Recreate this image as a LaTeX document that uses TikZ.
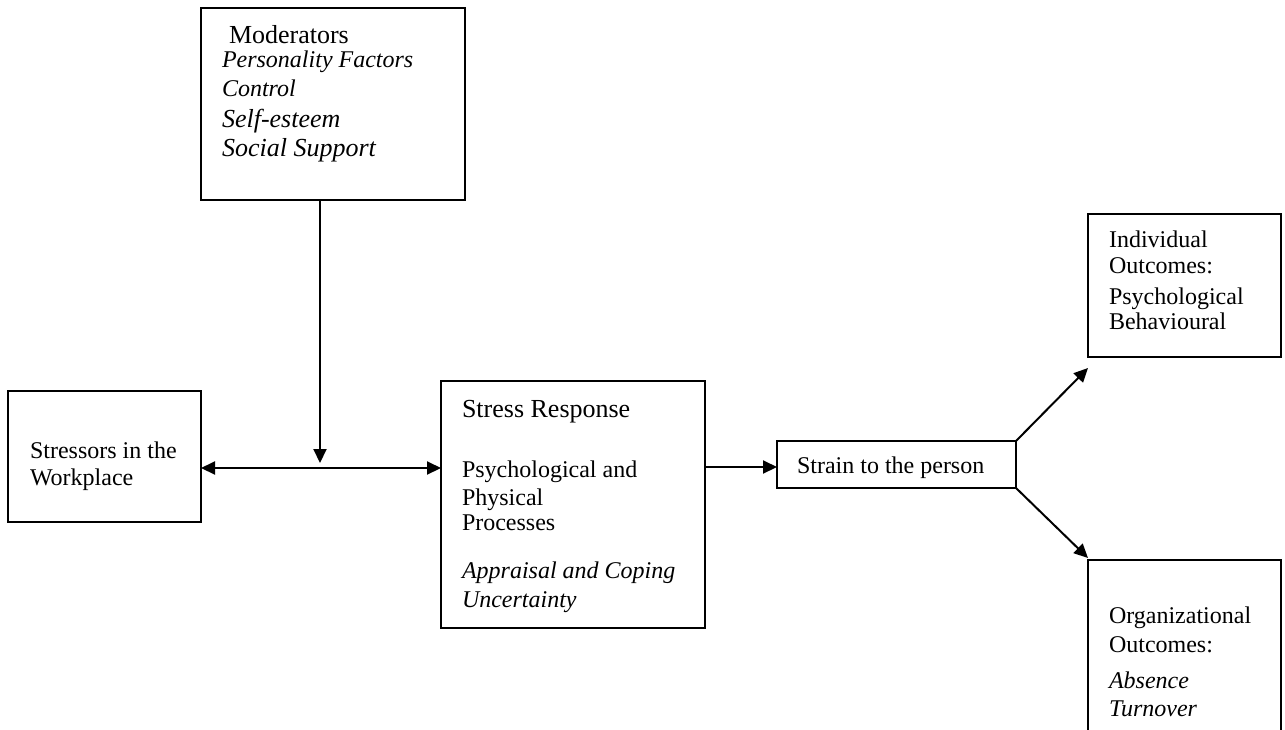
\documentclass[tikz,border=0pt]{standalone}
\usepackage{fontspec}
\setmainfont{Liberation Serif}
\usetikzlibrary{arrows.meta}
\begin{document}
\begin{tikzpicture}[x=0.5pt,y=-0.5pt,
  box/.style={draw, line width=1pt, inner sep=0pt, outer sep=0pt, anchor=north west},
  txt/.style={anchor=base west, inner sep=0pt, outer sep=0pt, font=\fontsize{12}{14}\selectfont},
  big/.style={txt, font=\fontsize{13}{15}\selectfont},
  link/.style={line width=1pt, -{Triangle[length=7pt,width=6.5pt]}},
  biglink/.style={line width=1pt, {Triangle[length=7pt,width=6.5pt]}-{Triangle[length=7pt,width=6.5pt]}}]
  \clip (0,0) rectangle (1285,729);

  % boxes
  \node[box, minimum width=132pt, minimum height=96pt] (mod) at (201,8) {};
  \node[box, minimum width=96.5pt, minimum height=65.5pt] (str) at (8,391) {};
  \node[box, minimum width=132pt, minimum height=123.5pt] (resp) at (441,381) {};
  \node[box, minimum width=119.5pt, minimum height=23.5pt] (strain) at (777,441) {};
  \node[box, minimum width=96.5pt, minimum height=71.5pt] (ind) at (1088,214) {};
  \node[box, minimum width=96.5pt, minimum height=100pt] (org) at (1088,560) {};

  % moderators
  \node[big] (m1) at (229,43) {Moderators};
  \node[txt] (m2) at (222,67) {\itshape Personality Factors};
  \node[txt] (m3) at (222,96) {\itshape Control};
  \node[big] (m4) at (222,127) {\itshape Self-esteem};
  \node[big] (m5) at (222,156) {\itshape Social Support};

  % stressors
  \node[txt] (s1) at (30,458) {Stressors in the};
  \node[txt] (s2) at (30,485) {Workplace};

  % stress response
  \node[big] (r1) at (462,417) {Stress Response};
  \node[txt] (r2) at (462,477) {Psychological and};
  \node[txt] (r3) at (462,505) {Physical};
  \node[txt] (r4) at (462,530) {Processes};
  \node[txt] (r5) at (462,578) {\itshape Appraisal and Coping};
  \node[txt] (r6) at (462,607) {\itshape Uncertainty};

  % strain
  \node[txt] (t1) at (797,473) {Strain to the person};

  % individual outcomes
  \node[txt] (i1) at (1109,247) {Individual};
  \node[txt] (i2) at (1109,273) {Outcomes:};
  \node[txt] (i3) at (1109,304) {Psychological};
  \node[txt] (i4) at (1109,329) {Behavioural};

  % organizational outcomes
  \node[txt] (o1) at (1109,623) {Organizational};
  \node[txt] (o2) at (1109,652) {Outcomes:};
  \node[txt] (o3) at (1109,688) {\itshape Absence};
  \node[txt] (o4) at (1109,716) {\itshape Turnover};

  % connectors
  \coordinate (j) at (320,468);
  \coordinate (jtip) at (320,463);
  \coordinate (itip) at (1088,368);
  \coordinate (otip) at (1088,558);
  \draw[link] (mod.south -| j) -- (jtip);
  \draw[biglink] (str.east |- j) -- (resp.west |- j);
  \draw[link] (resp.east |- 0,467) -- (strain.west |- 0,467);
  \draw[link] (strain.north east) -- (itip);
  \draw[link] (strain.south east) -- (otip);
\end{tikzpicture}
\end{document}
